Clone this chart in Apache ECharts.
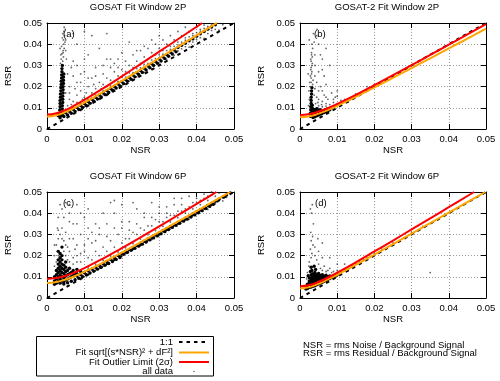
<!DOCTYPE html>
<html>
<head>
<meta charset="utf-8">
<script src="https://cdn.jsdelivr.net/npm/echarts@6/dist/echarts.min.js"></script>
<style>html,body{margin:0;padding:0;background:#fff}#chart{width:500px;height:381px}</style>
</head>
<body>
<div id="chart"></div>
<script>
// NSR / RSR values are written in units of 1e-3
const tickLabels = ['0', '0.01', '0.02', '0.03', '0.04', '0.05'];
const titles = ['GOSAT Fit Window 2P', 'GOSAT-2 Fit Window 2P', 'GOSAT Fit Window 6P', 'GOSAT-2 Fit Window 6P'];
const tags = ['(a)', '(b)', '(c)', '(d)'];
const oneToOne = [[0, 0], [50, 50]];

// fitted curves sqrt[(s*NSR)^2 + dF^2] and outlier limits
const fitA = [[0,5.9],[2.5,6.5],[5,8.05],[7.5,10.1],[10,12.44],[15,17.45],[20,22.68],[25,28],[30,33.38],[35,38.78],[40,44.19],[45,49.63],[45.4,50]];
const limitA = [[0,6.8],[2.5,7.4],[5,9.05],[7.5,11.25],[10,13.74],[15,19.16],[20,24.83],[25,30.61],[30,36.46],[35,42.34],[40,48.24],[41.5,50]];
const fitB = [[0,5.5],[2.5,5.98],[5,7.23],[7.5,8.94],[10,10.89],[15,15.13],[20,19.59],[25,24.14],[30,28.73],[35,33.36],[40,38],[45,42.66],[50,47.32]];
const limitB = [[0,6.6],[2.5,7.04],[5,8.22],[7.5,9.88],[10,11.82],[15,16.11],[20,20.68],[25,25.37],[30,30.13],[35,34.93],[40,39.75],[45,44.59],[50,49.44]];
const fitC = [[0,7.1],[2.5,7.54],[5,8.71],[7.5,10.39],[10,12.35],[15,16.73],[20,21.41],[25,26.23],[30,31.12],[35,36.06],[40,41.02],[45,46],[49,50]];
const limitC = [[0,9],[2.5,9.4],[5,10.51],[7.5,12.14],[10,14.1],[15,18.61],[20,23.51],[25,28.6],[30,33.8],[35,39.06],[40,44.36],[45,49.69],[45.3,50]];
const fitD = [[0,4.5],[2.5,5.15],[5,6.73],[7.5,8.75],[10,10.97],[15,15.66],[20,20.5],[25,25.4],[30,30.34],[35,35.29],[40,40.25],[45,45.22],[49.8,50]];
const limitD = [[0,5.5],[2.5,6.11],[5,7.65],[7.5,9.68],[10,11.96],[15,16.85],[20,21.94],[25,27.11],[30,32.33],[35,37.57],[40,42.83],[45,48.11],[46.8,50]];

// all data: dense cores and sparse outliers
const denseA = [[3.4,6],[3.4,7.5],[3.4,9],[3.5,10.5],[3.5,12],[3.5,13.5],[3.6,15],[3.6,16.5],[3.7,18],[3.7,19.5],[3.8,21],[3.8,22.5],[3.9,24],[3.9,25.5],[4,27],[4,28.5],[4.1,30],
  [4,6.5],[4,8],[4.1,9.5],[4.1,11],[4.2,12.5],[4.2,14],[4.2,15.5],[4.3,17],[4.3,18.5],[4.3,20],[4.4,21.5],[4.4,23],[4.4,24.5],[4.5,26],
  [3,6.3],[4,6.9],[5,7.6],[6,8.4],[7,9.3],[8,10.2],[9,11.1],[10,12],[11,13],[12,14],[13,15],[14,16],[15,17],[16,18.1],[17,19.1],[18,20.2],[19,21.2],[20,22.3],[21,23.3],[22,24.4],[23,25.5],[24,26.5],[25,27.6],[26,28.7],[27,29.7],[28,30.8],[29,31.9],[30,33],[31,34],[32,35.1],[33,36.2],[34,37.3],[35,38.4],[36,39.5],[37,40.5],[38,41.6],[39,42.5],[40,43.8],[41,44.9],[42,46],[43,47.1],[44,48.1],[45,49.2],
  [3.5,5.3],[4.5,5.9],[5.5,6.6],[6.5,7.45],[7.5,8.3],[8.5,9.2],[9.5,10.2],[10.5,11.1],[11.5,12.1],[12.5,13.1],[13.5,14.1],[14.5,15.1],[15.5,16.2],[16.5,17.2],[17.5,18.25],[18.5,19.3],[19.5,20.35],[20.5,21.4],[21.5,22.5],[22.5,23.5],[23.5,24.6],[24.5,25.7],[25.5,26.7],[26.5,27.8],[27.5,28.9],[28.5,30],[29.5,31],[30.5,32.1],[31.5,33.2],[32.5,34.3],[33.5,35.35],[34.5,36.4]];
const sparseA = [[4.2,32],[4.4,34],[4.3,36],[4.6,38],[4.5,40],[4.4,42],[4.7,44],[4.5,46],[4.6,48],[3.8,33],[4,35.5],[3.9,39],[4.1,43],[5,37],[3.6,31],
  [6,14],[6,20],[7,13],[7,25],[8,16],[8,30],[9,18],[9,22],[10,15],[10,27],[11,20],[11,35],[12,17],[12,24],[13,19],[13,29],[14,22],[14,38],[15,21],[15,26],[16,24],[16,33],[17,23],[18,27],[18,31],[19,25],[20,28],[20,36],[21,27],[22,30],[22,41],[23,29],[24,32],[25,31],[26,34],[27,33],[28,36],[29,35],[30,38],[31,37],[32,40],[33,39],[34,42],[35,41],[36,44],[37,43],[38,46],[39,45],[40,48],[41,47],[42,49],
  [5.5,11],[6.5,11.5],[5,17],[7.5,19],[9.5,14],[10.5,17],[12.5,21],[14.5,19],[17,29],[19,33],[24,37],[26,39],[28,42],[30,44],[8,40],[12,44],[16,45],
  [8,12.5],[10,14],[12,16],[14,18],[16,20],[18,22.5],[20,24.5],[22,26.5],[24,28.5],[26,30.5],[28,32.5],[30,35],[32,37],[34,39],[36,41],[38,43.5],[40,45.5],[42,47.5],[44,49.5],
  [10,10.5],[14,14.6],[18,18.7],[22,22.6],[26,26.7],[30,30.6],[34,34.7],[38,38.6],[42,42.7],[46,46.6],[35,36.8],[37,38.9],[39,41],[41,43.1],[43,45],[45,47],[47,49.2],[44,46.5],[40,42.2],[36,37.8],
  [5,8.6],[7,10.2],[9,12],[11,14],[13,16],[15,18],[17,20.3],[19,22.4],[21,24.5],[23,26.6],[25,28.8],[27,31],[29,33.2],[31,35.3],[33,37.5],[35,39.7],[37,41.9],[39,44],[41,46.2],[43,48.4],
  [6,17],[8,22],[9,26],[11,24],[13,25],[15,30],[17,33],[19,29],[21,32],[23,35],[25,37],[27,38],[29,40],[31,42],[33,44],[35,46],[37,48],[5.5,26],[7,32],[10,33],[6.5,29],[5,42],[7,45],[10,46],
  [12,12.3],[16,16.5],[20,20.5],[24,24.6],[28,28.5],[32,32.6],[3.7,35],[4.3,37],[4.8,41],[4.2,45],[5.2,33],[3.5,38],[4.9,47]];

const denseB = [[2.8,6],[2.8,7.5],[2.9,9],[2.9,10.5],[3,12],[3,13.5],[3,15],[3.1,16.5],[3.1,18],[3.3,6.8],[3.3,8.2],[3.3,9.8],[3.3,11.2],[3.2,19.5],
  [3.5,5.4],[4,5.8],[4.5,6.2],[5,6.6],[5.5,7],[6,7.4],[6.5,7.8],[7,8.2],[7.5,8.6],[8,9.1],
  [3.8,6.6],[4.3,7],[4.8,7.4],[5.3,7.8],[5.8,8.2],[6.3,8.6],[6.8,9],[7.3,9.4],
  [3.8,7.8],[4.3,8.3],[4.8,8.7],[5.4,9.1],[3.8,9.2],[4.5,9.6]];
const sparseB = [[3,24],[3.1,26],[2.9,28],[3.2,30],[3,32],[3.3,34],[3.1,36],[3.4,38],[3.2,40],[2.6,22],[3.5,23],[4,25],[4.5,22],[4,30],[5,27],[5.5,20],[6,18],[4,19],[3.8,16],[4.5,15],[5,14],[6,13],[7,12],[8,11.5],[9,12.5],[10,12],[11,13.5],[6.5,16],[7.5,14],[8.5,17],[5.5,35],[4.5,44],[6,33],[3.6,45],[2.5,42],[7,21],[9.5,15],[12,14],[10,18],[5,11],[6,10.5],[7,10.8],[8,10.2],[4.2,12],[4.8,10],[9,11],[2.2,26],[2.4,18],[2.5,14],[2.3,11],[13,12.8],[15,16.5],[18,20],[20,21],[8,30],[7,38],[3.8,41],[4.6,47],
  [3,22],[2.8,25],[3.2,27],[3,29],[2.9,33],[3.3,31],[3.1,35],[3.4,21],[2.7,20],[4,35],[5,40],[6,28],[6.5,25],[5,18],[4.8,12.5],[5.8,11.5],[7,15],[9,14],[10,15.5]];

const denseC = [[2.5,7],[2.5,9],[2.5,11],[2.5,13],[3,8],[3,10],[3,12],[3,14],[3,16],[3,18],[3.5,7],[3.5,9],[3.5,11],[3.5,13],[3.5,15],[3.5,17],[3.5,19],[4,8],[4,10],[4,12],[4,14],[4,16],[4,18],[4,20],[4.5,7.5],[4.5,9.5],[4.5,11.5],[4.5,13.5],[4.5,15.5],[5,8.5],[5,10.5],[5,12.5],[5,14.5],[5,17],[5.5,9],[5.5,11],[5.5,13],[6,9.5],[6,11.5],[6,14],[6.5,10],[6.5,12],[7,10.5],[7,13],[7.5,11],[8,11.5],[8,13.5],[9,12.5],[2,6.5],[2,8],[2,10],[3,22],[3.5,21],[4,24],
  [8,10.4],[9,11.1],[10,11.9],[11,12.8],[12,13.6],[13,14.5],[14,15.4],[15,16.3],[16,17.2],[17,18.2],[18,19.1],[19,20],[20,21],[21,21.9],[22,22.9],[23,23.9],[24,24.8],[25,25.8],[26,26.8],[27,27.8],[28,28.7],[29,29.7],[30,30.7],[31,31.7],[32,32.7],[33,33.7],[34,34.7],[35,35.6],[36,36.6],[37,37.6],[38,38.6],[39,39.6],[40,40.6],[41,41.6],[42,42.6],[43,43.6],[44,44.6],[45,45.6],[46,46.6],[47,47.6],[48,48.6],[49,49.6],
  [4.5,6.6],[5.5,7.2],[6.5,7.9],[7.5,8.6],[8.5,9.3],[9.5,10.1],[10.5,11],[11.5,11.8],[12.5,12.7],[13.5,13.6],[14.5,14.5],[15.5,15.4],[16.5,16.3],[17.5,17.25],[18.5,18.2],[19.5,19.1],[20.5,20.6],[21.5,21.55],[22.5,22.5],[23.5,23.5],[24.5,24.45],[25.5,25.4],[26.5,26.4],[27.5,27.4],[28.5,28.35],[29.5,29.3],[30.5,30.3],[31.5,31.3],[32.5,32.3],[33.5,33.3],[34.5,34.25],[35.5,35.25],[36.5,36.25],[37.5,37.2],[38.5,38.2],[39.5,39.2],[40.5,40.2],[41.5,41.2],[42.5,42.2],[43.5,43.2],[44.5,44.2]];
const sparseC = [[2.5,25],[3,28],[3.5,30],[4,33],[4.5,27],[5,31],[5.5,24],[6,36],[3,38],[4,42],[5,45],[6,40],[7,35],[8,44],[7,28],[8,25],[9,30],[10,38],[11,33],[6,22],[7,19],[8,20],[9,17],[10,22],[11,19],[12,26],[13,22],[12,18],[14,30],[15,24],[16,35],[17,27],[18,40],[19,30],[20,33],[21,28],[22,36],[23,31],[24,42],[25,33],[26,38],[27,34],[28,45],[29,37],[30,40],[31,36],[32,43],[33,39],[34,47],[35,41],[36,44],[37,42],[38,48],[39,45],[40,47],[41,46],[42,49],[43,48],[44,50],[3.5,44],[2,20],[2,15],[5,20],[6,17],[2.8,33],[4.5,38],[9,40],[13,35],[15,40],[17,45],[20,44],
  [14,20],[16,22],[18,24],[20,26],[22,28],[24,30],[26,32],[28,34],[30,36],[32,38],[34,39],[36,41],[38,43],[40,45],[42,47],[44,48.5],[46,49.5],
  [10,10],[15,15],[20,19.6],[25,24.8],[30,29.6],[35,34.8],[40,39.6],[45,44.5],[48,47.5],[47,45.8],[43,41.8],[38,37.2],[33,32.5],[28,27.6],
  [9,12.5],[11,14.2],[13,16],[15,17.8],[17,19.8],[19,21.7],[21,23.7],[23,25.7],[25,27.8],[27,29.8],[29,31.8],[31,33.9],[33,35.9],[35,37.9],[37,40],[39,42],[41,44],[43,46],[45,48],
  [2.5,17],[3,20],[4.5,22],[5,25],[5.5,18],[6,28],[7,16],[7.5,23],[8,17],[9,21],[10,25],[11,28],[12,31],[13,27],[14,33],[16,29],[18,33],[20,36],[22,32],[24,35],[26,40],[28,38],[30,43],[32,40],[34,44],[36,47],[4,28],[3,32],[2,25],[6,44],[11,42],[8,35],[18,46],[23,45]];

const denseD = [[2,4.5],[2,5.5],[2,6.5],[2.5,5],[2.5,6],[2.5,7],[2.5,8],[2.5,9.5],[3,5.2],[3,6.3],[3,7.4],[3,8.5],[3,9.6],[3,11],[3.5,5.5],[3.5,6.6],[3.5,7.7],[3.5,8.8],[3.5,10],[3.5,11.5],[4,5.8],[4,7],[4,8.2],[4,9.4],[4,10.6],[4,12],[4.5,6.2],[4.5,7.4],[4.5,8.6],[4.5,9.8],[4.5,11],[5,6.6],[5,7.8],[5,9],[5,10.2],[5,11.6],[5.5,7],[5.5,8.2],[5.5,9.4],[5.5,10.6],[6,7.4],[6,8.6],[6,9.8],[6,11],[6.5,7.9],[6.5,9.1],[6.5,10.3],[7,8.3],[7,9.5],[7,10.7],[7.5,8.8],[7.5,10],[8,9.2],[8,10.4],[8.5,9.7],[9,10.1],[9.5,10.6],[10,11],[2.2,10.5],[3.2,13],[2.8,12.5],[4.2,13.5],[1.6,4.2],[3,14.5],[3.8,15]];
const sparseD = [[2.5,17],[3,19],[3.2,21],[2.8,23],[3.5,25],[3,27],[3.4,29],[2.9,31],[3.6,35],[3.1,40],[2.8,42],[3.3,44],[4,20],[4.5,18],[5,16],[5.5,14],[6,13],[6.5,15],[7,12.5],[7.5,13],[8,14],[8.5,12],[9,12.5],[10,13],[11,12.5],[12,13.5],[13,14],[14,15.2],[15,16.5],[16,17],[17,18.4],[18,19],[20,21],[22,23],[25,26],[28,28.5],[30,31],[33,33.8],[12,16],[4,24],[5,22],[6,19],[4.8,28],[2.4,15],[2,12],[1.8,9],[11,11.3],[13,13.2],[9.5,9.8],[8,19],[6,26],[10,16],[35,12]];

const fits = [fitA, fitB, fitC, fitD];
const limits = [limitA, limitB, limitC, limitD];
const dense = [denseA, denseB, denseC, denseD];
const sparse = [sparseA, sparseB, sparseC, sparseD];

const font = 'Liberation Sans, Arial, sans-serif';
const fs = 9.5;
const grids = [
  {left: 47, top: 23, width: 187, height: 106},
  {left: 300, top: 23, width: 186, height: 106},
  {left: 47, top: 192, width: 187, height: 106},
  {left: 300, top: 192, width: 186, height: 106}
];
const xNameGap = [10, 10, 16, 16];
const titlePos = [[138, 7.5], [387, 7.5], [138, 176], [387, 176]];
const tagPos = [[63, 34], [314, 34], [63, 203], [315, 203]];

const txt = {fontSize: fs, fontFamily: font, color: '#000'};
const xAxis = [], yAxis = [], series = [];
grids.forEach((g, i) => {
  const base = {
    gridIndex: i, type: 'value', min: 0, max: 50, interval: 10,
    axisLine: {show: true, onZero: false, lineStyle: {color: '#000', width: 1}},
    axisTick: {show: true, inside: true, length: 5, lineStyle: {color: '#000'}},
    axisLabel: {show: false},
    splitLine: {show: false}
  };
  const lab = {show: true, margin: 5, ...txt, formatter: v => tickLabels[Math.round(v / 10)]};
  const grid = {show: true, lineStyle: {color: '#999', width: 1, type: [1, 2]}};
  xAxis.push({...base, position: 'bottom', axisLabel: lab, splitLine: grid,
    name: 'NSR', nameLocation: 'middle', nameGap: xNameGap[i], nameTextStyle: txt});
  xAxis.push({...base, position: 'top'});
  yAxis.push({...base, position: 'left', axisLabel: lab, splitLine: grid,
    name: 'RSR', nameLocation: 'middle', nameRotate: 90, nameGap: 34, nameTextStyle: txt});
  yAxis.push({...base, position: 'right'});
  const ax = {xAxisIndex: 2 * i, yAxisIndex: 2 * i};
  series.push({...ax, type: 'scatter', name: 'all data', data: sparse[i], symbolSize: 1.8,
    itemStyle: {color: '#333', opacity: 0.75}, z: 1});
  series.push({...ax, type: 'scatter', name: 'all data', data: dense[i], symbolSize: 3.4,
    itemStyle: {color: '#000', opacity: 1}, z: 1});
  series.push({...ax, type: 'line', name: '1:1', data: oneToOne, showSymbol: false, symbol: 'none',
    lineStyle: {color: '#000', width: 2, type: [3.5, 4]}, z: 3});
  series.push({...ax, type: 'line', name: 'fit', data: fits[i], showSymbol: false, symbol: 'none', smooth: true,
    lineStyle: {color: '#ffa500', width: 2}, z: 4});
  series.push({...ax, type: 'line', name: 'limit', data: limits[i], showSymbol: false, symbol: 'none', smooth: true,
    lineStyle: {color: '#ff0000', width: 2}, z: 5});
});

const T = (x, y, text, align) => ({type: 'text', x, y, z: 10,
  style: {text, fontSize: fs, fontFamily: font, fill: '#000', align: align || 'center', verticalAlign: 'middle'}});
const graphic = [];
titles.forEach((t, i) => graphic.push(T(titlePos[i][0], titlePos[i][1], t)));
tags.forEach((t, i) => graphic.push(T(tagPos[i][0], tagPos[i][1], t, 'left')));
// legend box
graphic.push({type: 'rect', shape: {x: 36.5, y: 336.5, width: 177, height: 39.5}, style: {fill: '#fff', stroke: '#000', lineWidth: 1}, z: 9});
const legendText = ['1:1', 'Fit sqrt[(s*NSR)\u00b2 + dF\u00b2]', 'Fit Outlier Limit (2\u03c3)', 'all data'];
const legendY = [342, 352.5, 362, 371.5];
legendText.forEach((t, i) => graphic.push(T(173, legendY[i], t, 'right')));
graphic.push({type: 'line', shape: {x1: 179, y1: 342, x2: 209, y2: 342}, style: {stroke: '#000', lineWidth: 2, lineDash: [3.5, 4]}, z: 10});
graphic.push({type: 'line', shape: {x1: 179, y1: 352.5, x2: 209, y2: 352.5}, style: {stroke: '#ffa500', lineWidth: 2}, z: 10});
graphic.push({type: 'line', shape: {x1: 179, y1: 362, x2: 209, y2: 362}, style: {stroke: '#ff0000', lineWidth: 2}, z: 10});
graphic.push({type: 'circle', shape: {cx: 194, cy: 371.5, r: 0.8}, style: {fill: '#777'}, z: 10});
graphic.push(T(303, 345, 'NSR = rms Noise / Background Signal', 'left'));
graphic.push(T(303, 353, 'RSR = rms Residual / Background Signal', 'left'));

const chart = echarts.init(document.getElementById('chart'));
chart.setOption({
  animation: false,
  backgroundColor: '#fff',
  textStyle: {fontFamily: font},
  grid: grids,
  xAxis, yAxis, series, graphic
});
</script>
</body>
</html>
